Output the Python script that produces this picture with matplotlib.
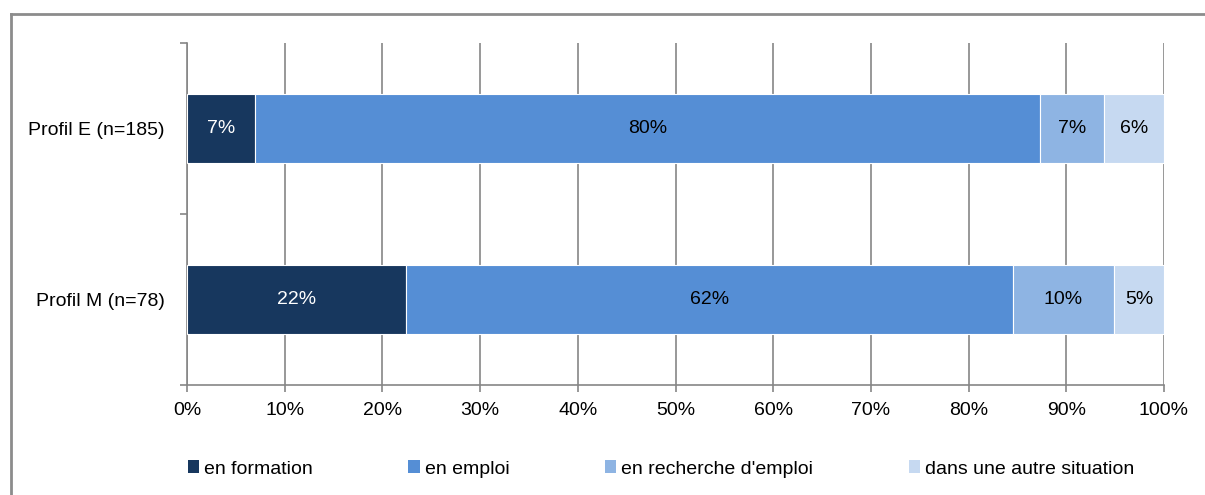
import matplotlib
matplotlib.use("Agg")
import matplotlib.pyplot as plt
from matplotlib.patches import Patch
from matplotlib.lines import Line2D
from matplotlib.ticker import FixedLocator

plt.rcParams['font.family'] = ['Liberation Sans', 'DejaVu Sans']

# data
profils = ['Profil M (n=78)', 'Profil E (n=185)']
situations = ['en formation', 'en emploi', "en recherche d'emploi", 'dans une autre situation']
formation = [22.4, 7.0]
emploi = [62.1, 80.3]
recherche = [10.4, 6.6]
autre = [5.1, 6.1]
couleurs = ['#17375E', '#558ED5', '#8EB4E3', '#C6D9F1']
couleurs_texte = ['white', 'black', 'black', 'black']

fig = plt.figure(figsize=(12.05, 4.95), dpi=100)
ax = fig.add_axes([187 / 1205, 1 - 385 / 495, 977 / 1205, 342 / 495])

taille = 14
gris = '#868686'
y = list(range(len(profils)))
gauche = [0.0] * len(profils)
for serie, coul, ctxt in zip([formation, emploi, recherche, autre], couleurs, couleurs_texte):
    ax.barh(y, serie, left=gauche, height=0.4, color=coul, edgecolor='white', linewidth=0.8, zorder=3)
    for yi, g, v in zip(y, gauche, serie):
        ax.text(g + v / 2, yi, f'{round(v)}%', ha='center', va='center', color=ctxt, fontsize=taille, zorder=4)
    gauche = [g + v for g, v in zip(gauche, serie)]

ax.set_xlim(0, 100)
ax.set_ylim(-0.5, 1.5)
ax.set_xticks(range(0, 101, 10))
ax.set_xticklabels([f'{v}%' for v in range(0, 101, 10)])
ax.set_yticks(y)
ax.set_yticklabels(profils)
ax.yaxis.set_minor_locator(FixedLocator([-0.5, 0.5, 1.5]))
ax.tick_params(axis='y', which='major', length=0, pad=16, labelsize=taille)
ax.tick_params(axis='y', which='minor', length=5, color=gris, width=1.2, direction='out')
ax.tick_params(axis='x', length=5, color=gris, width=1.2, direction='out', labelsize=taille, pad=7)
ax.grid(axis='x', color=gris, linewidth=1.2, zorder=0)
ax.set_axisbelow(True)
for s in ['top', 'right']:
    ax.spines[s].set_visible(False)
for s in ['left', 'bottom']:
    ax.spines[s].set_color(gris)
    ax.spines[s].set_linewidth(1.2)

# cadre du graphique
fig.add_artist(Line2D([11 / 1205, 11 / 1205], [0, 1 - 14 / 495], transform=fig.transFigure, color='#8c8c8c', linewidth=2))
fig.add_artist(Line2D([11 / 1205, 1], [1 - 14 / 495, 1 - 14 / 495], transform=fig.transFigure, color='#8c8c8c', linewidth=2))

poignees = [Patch(facecolor=c, edgecolor='none') for c in couleurs]
fig.legend(poignees, situations, loc='center', bbox_to_anchor=(661 / 1205, 1 - 469 / 495), ncol=4,
           frameon=False, fontsize=taille, handlelength=0.6, handleheight=0.6, handletextpad=0.25,
           columnspacing=4.9)

fig.savefig('out.png', dpi=100)
